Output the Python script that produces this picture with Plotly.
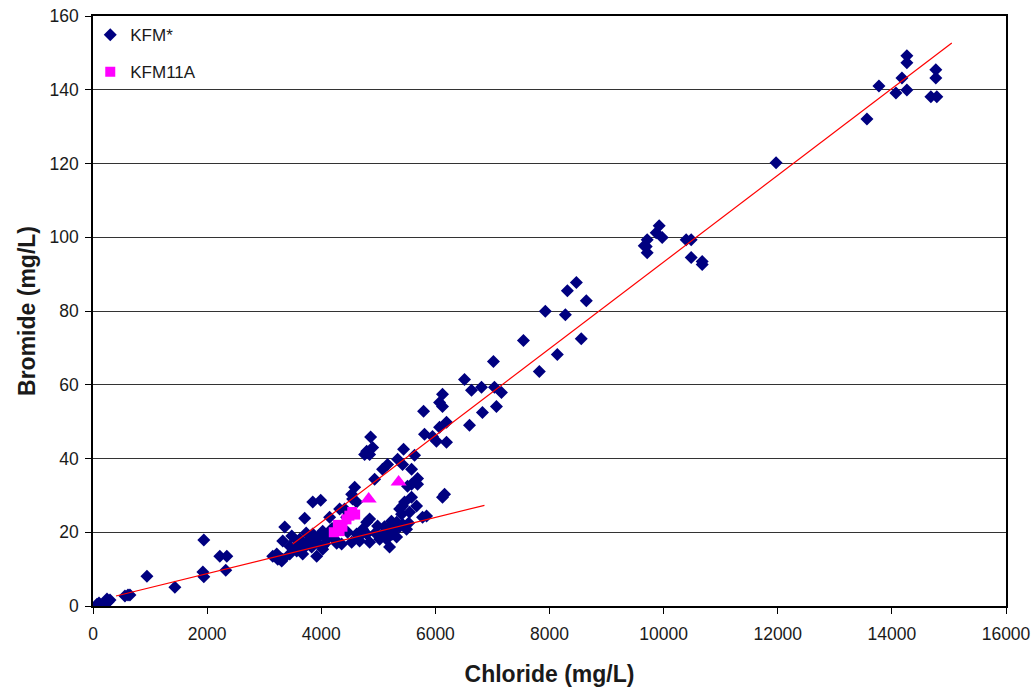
import plotly.graph_objects as go

# KFM* samples (Chloride mg/L, Bromide mg/L)
kfm_cl = [70, 105, 245, 262, 298, 227, 560, 613, 647, 945, 1435, 1942, 1925, 1942, 2222, 2345, 2327,
          3150, 3220, 3238, 3307, 3325, 3360, 3325, 3448, 3448, 3570, 3570, 3675, 3675, 3710, 3798, 3798,
          3851, 3851, 3920, 3920, 3990, 4025, 4025, 4025, 4095, 4061, 4147, 4147, 4235, 3832, 3622, 3727,
          4322, 4357, 4410, 4445, 4462, 4533, 4533, 4550, 4586, 4620, 4620, 4672, 4725, 4796, 4796, 4848,
          4848, 4760, 4848, 4796, 4865, 4901, 4935, 4987, 5023, 5075, 5075, 5145, 5162, 5162, 5197, 5285,
          5321, 5321, 5338, 5407, 5425, 5425, 5425, 5460, 5443, 5495, 5512, 5548, 5583, 5583, 5583, 5635,
          5670, 5688, 5688, 5775, 5846, 5793, 5810, 5950, 6019, 6073, 6073, 6125, 6125, 6195, 6195, 6125,
          6161, 5373, 3483, 3594, 3736, 3887, 3968, 4190, 4271, 4644, 4947, 5109, 5230, 5250, 5371, 5533,
          6510, 6633, 6598, 6808, 6825, 7035, 7070, 7018, 7158, 7543, 7822, 7927, 8137, 8278, 8313, 8471,
          8557, 8645, 9660, 9695, 9712, 9712, 9870, 9922, 9975, 10395, 10483, 10483, 10676, 10676, 11970,
          13563, 13773, 14176, 14071, 14263, 14263, 14263, 14683, 14788, 14770, 14770]
kfm_br = [0.5, 0.8, 1.9, 1.1, 1.6, 0.8, 2.7, 3.0, 3.0, 8.1, 5.1, 17.9, 9.2, 7.9, 13.5, 13.5, 9.7,
          13.5, 14.1, 12.7, 12.2, 17.6, 21.4, 12.7, 16.2, 14.1, 16.2, 14.9, 14.1, 15.4, 23.8, 18.1, 17.3,
          28.2, 19.5, 17.3, 13.5, 28.7, 20.3, 15.4, 16.2, 18.1, 16.8, 24.1, 19.5, 18.1, 16.0, 18.1, 16.8,
          26.3, 16.8, 26.3, 24.1, 20.0, 17.3, 30.3, 29.0, 32.2, 28.2, 19.5, 17.6, 20.8, 22.7, 19.5, 23.6,
          17.3, 41.1, 41.1, 42.0, 45.8, 43.0, 34.4, 21.7, 18.1, 19.5, 37.1, 18.1, 38.4, 20.8, 16.0, 20.8,
          22.7, 18.7, 39.8, 24.9, 38.4, 27.1, 22.2, 28.2, 42.5, 20.8, 32.5, 25.4, 29.5, 33.0, 37.1, 40.9,
          27.1, 34.6, 33.0, 24.1, 24.4, 52.8, 46.6, 46.0, 44.7, 48.5, 55.2, 57.4, 54.1, 49.8, 44.4, 29.5,
          30.3, 26.3, 19.0, 17.5, 19.8, 18.5, 19.0, 21.0, 17.0, 18.5, 19.8, 21.5, 23.0, 19.5, 21.5, 22.5,
          61.4, 58.5, 49.0, 59.3, 52.5, 59.3, 54.1, 66.3, 57.9, 72.0, 63.6, 79.9, 68.2, 79.0, 85.5, 87.7,
          72.5, 82.8, 97.7, 97.5, 95.8, 99.3, 101.2, 103.1, 99.9, 99.3, 99.3, 94.5, 92.6, 93.4, 120.2,
          132.1, 141.0, 143.2, 139.1, 139.9, 149.2, 147.3, 138.1, 138.1, 145.4, 143.2]

# KFM11A samples
kfm11a_cl = [4220, 4321, 4372, 4291, 4442, 4493, 4594, 4543]
kfm11a_br = [20.0, 20.3, 21.5, 22.0, 23.5, 24.5, 24.8, 25.5]

# Additional samples (triangles, not in legend)
extra_cl = [4831, 5356]
extra_br = [29.0, 33.6]

# Trend lines
trend1_cl = [3500, 15050]
trend1_br = [16.8, 152.7]
trend2_cl = [403, 6860]
trend2_br = [2.7, 27.3]

x_ticks = [0, 2000, 4000, 6000, 8000, 10000, 12000, 14000, 16000]
y_ticks = [0, 20, 40, 60, 80, 100, 120, 140, 160]

fig = go.Figure()
fig.add_trace(go.Scatter(x=kfm_cl, y=kfm_br, mode="markers", name="KFM*", legendgroup="a",
                         marker=dict(symbol="diamond", size=10, color="#000080", line=dict(width=0))))
fig.add_trace(go.Scatter(x=kfm11a_cl, y=kfm11a_br, mode="markers", name="KFM11A", legendgroup="b",
                         marker=dict(symbol="square", size=10, color="#FF00FF", line=dict(width=0))))
fig.add_trace(go.Scatter(x=extra_cl, y=extra_br, mode="markers", showlegend=False,
                         marker=dict(symbol="triangle-up", size=14, color="#FF00FF", line=dict(width=0))))
fig.add_trace(go.Scatter(x=trend1_cl, y=trend1_br, mode="lines",
                         line=dict(color="#FF0000", width=1.2), showlegend=False, hoverinfo="skip"))
fig.add_trace(go.Scatter(x=trend2_cl, y=trend2_br, mode="lines",
                         line=dict(color="#FF0000", width=1.2), showlegend=False, hoverinfo="skip"))

fig.update_layout(
    width=1034, height=690,
    margin=dict(l=93, r=28, t=16, b=84),
    paper_bgcolor="white", plot_bgcolor="white",
    font=dict(family="Liberation Sans, Arial, sans-serif", size=17.5, color="#1a1a1a"),
    legend=dict(x=-0.003, y=0.998, xanchor="left", yanchor="top", bgcolor="rgba(0,0,0,0)",
                font=dict(size=17), tracegroupgap=12, traceorder="grouped"),
    showlegend=True,
)
fig.update_xaxes(range=[0, 16000], tickvals=x_ticks, ticktext=[str(v) for v in x_ticks],
                 ticklabeloverflow="allow", automargin=False, tickfont=dict(size=17.5),
                 ticklabelstandoff=5,
                 showgrid=False, zeroline=False, showline=True, linecolor="black", linewidth=1.5,
                 mirror=True, ticks="outside", ticklen=6, tickcolor="black",
                 title=dict(text="<b>Chloride (mg/L)</b>", font=dict(size=23), standoff=23))
fig.update_yaxes(range=[0, 160], tickvals=y_ticks, ticktext=[str(v) for v in y_ticks],
                 tickfont=dict(size=17.5), automargin=False, ticklabelstandoff=3,
                 showgrid=True, gridcolor="#333333", gridwidth=1, zeroline=False,
                 showline=True, linecolor="black", linewidth=1.5, mirror=True,
                 ticks="outside", ticklen=6, tickcolor="black",
                 title=dict(text="<b>Bromide (mg/L)</b>", font=dict(size=23), standoff=7))

fig.write_html("out.html")
